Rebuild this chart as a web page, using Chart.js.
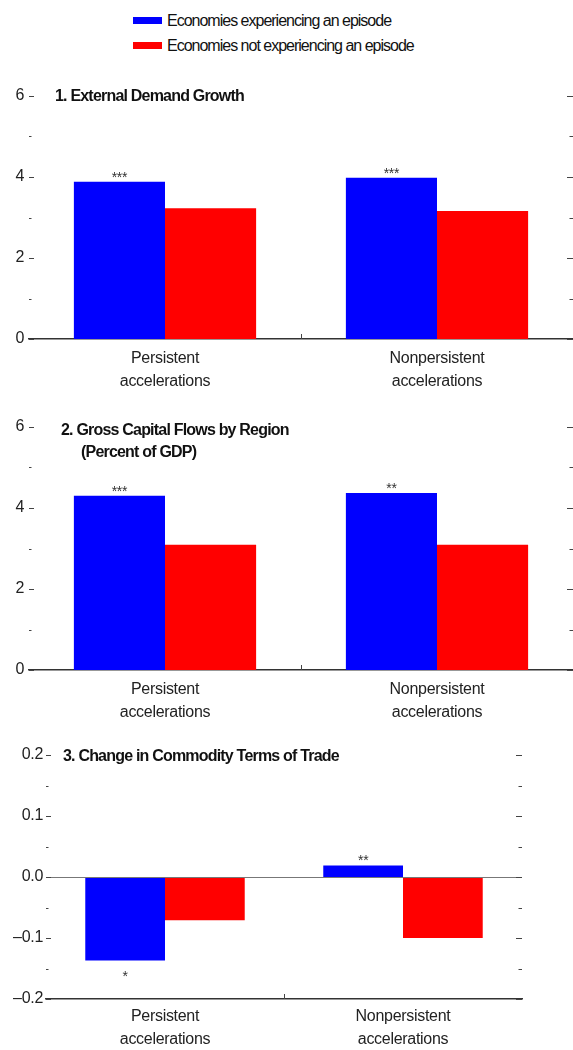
<!DOCTYPE html>
<html>
<head>
<meta charset="utf-8">
<script src="https://cdn.jsdelivr.net/npm/chart.js@4.4.1/dist/chart.umd.min.js"></script>
<style>
  body {
    margin: 0;
    background: #fff;
    width: 573px;
    height: 1050px;
    position: relative;
    overflow: hidden;
    font-family: "Liberation Sans", Arial, sans-serif;
  }
  .legend {
    position: absolute;
    left: 133px;
    top: 8px;
  }
  .legend-item {
    display: flex;
    align-items: center;
    height: 25px;
    font-size: 16px;
    letter-spacing: -1px;
    color: #111;
  }
  .swatch {
    width: 29px;
    height: 7px;
    margin-right: 5px;
  }
  .panel {
    position: absolute;
    left: 0;
    width: 573px;
  }
  .panel canvas {
    display: block;
  }
</style>
</head>
<body>
<div class="legend" id="legend"></div>
<div class="panel" style="top:80px;height:320px"><canvas id="chart1" width="573" height="320"></canvas></div>
<div class="panel" style="top:410px;height:320px"><canvas id="chart2" width="573" height="320"></canvas></div>
<div class="panel" style="top:740px;height:310px"><canvas id="chart3" width="573" height="310"></canvas></div>

<script>
// donnees
const categories = [['Persistent', 'accelerations'], ['Nonpersistent', 'accelerations']];
const seriesNames = ['Economies experiencing an episode', 'Economies not experiencing an episode'];
const seriesColors = ['#0000ff', '#ff0000'];

const demandTitle = ['1. External Demand Growth'];
const demandEpisode = [3.88, 3.98];
const demandNoEpisode = [3.23, 3.16];
const demandStars = ['***', '***'];

const flowsTitle = ['2. Gross Capital Flows by Region', '(Percent of GDP)'];
const flowsEpisode = [4.30, 4.37];
const flowsNoEpisode = [3.09, 3.09];
const flowsStars = ['***', '**'];

const totTitle = ['3. Change in Commodity Terms of Trade'];
const totEpisode = [-0.137, 0.019];
const totNoEpisode = [-0.071, -0.100];
const totStars = ['*', '**'];

const yLabels12 = ['0', '', '2', '', '4', '', '6'];
const yLabels3 = ['\u20130.2', '', '\u20130.1', '', '0.0', '', '0.1', '', '0.2'];

// legende
const legend = document.getElementById('legend');
seriesNames.forEach((name, i) => {
  const item = document.createElement('div');
  item.className = 'legend-item';
  const sw = document.createElement('span');
  sw.className = 'swatch';
  sw.style.background = seriesColors[i];
  item.appendChild(sw);
  item.appendChild(document.createTextNode(name));
  legend.appendChild(item);
});

// ticks, titre, etoiles
const panelDecor = {
  id: 'panelDecor',
  beforeDraw(chart) {
    chart.ctx.letterSpacing = '-0.3px';
  },
  afterDatasetsDraw(chart, args, opts) {
    const { ctx, chartArea: a, scales: { x, y } } = chart;
    ctx.save();

    if (opts.zeroLine) {
      const y0 = Math.round(y.getPixelForValue(0)) + 0.5;
      ctx.strokeStyle = '#777';
      ctx.lineWidth = 1.2;
      ctx.beginPath();
      ctx.moveTo(a.left, y0);
      ctx.lineTo(a.right, y0);
      ctx.stroke();
    }

    ctx.strokeStyle = '#444';
    ctx.lineWidth = 1;
    ctx.beginPath();
    y.ticks.forEach((t, i) => {
      const py = Math.round(y.getPixelForTick(i)) + 0.5;
      const len = t.label ? 5 : 2.5;
      ctx.moveTo(a.left, py);
      ctx.lineTo(a.left + len, py);
      ctx.moveTo(a.right - len - 1, py);
      ctx.lineTo(a.right, py);
    });
    const mid = Math.round((x.getPixelForValue(0) + x.getPixelForValue(1)) / 2) + 0.5;
    ctx.moveTo(mid, a.bottom);
    ctx.lineTo(mid, a.bottom - 5);
    ctx.stroke();

    // etoiles de significativite
    ctx.fillStyle = '#333';
    ctx.font = '14px "Liberation Sans", Arial, sans-serif';
    ctx.textAlign = 'center';
    ctx.textBaseline = 'alphabetic';
    const meta = chart.getDatasetMeta(0);
    const vals = chart.data.datasets[0].data;
    meta.data.forEach((bar, i) => {
      const s = opts.stars[i];
      if (!s) return;
      const ty = vals[i] >= 0 ? bar.y : bar.y + 20;
      ctx.fillText(s, bar.x, ty);
    });

    // titre
    ctx.fillStyle = '#111';
    ctx.font = 'bold 16px "Liberation Sans", Arial, sans-serif';
    ctx.letterSpacing = '-0.8px';
    ctx.textAlign = 'left';
    ctx.textBaseline = 'middle';
    opts.title.forEach((line, i) => {
      ctx.fillText(line, opts.titlePos[i][0], opts.titlePos[i][1]);
    });
    ctx.restore();
  }
};

function makePanel(id, cfg) {
  return new Chart(document.getElementById(id), {
    type: 'bar',
    data: {
      labels: categories,
      datasets: [
        { label: seriesNames[0], data: cfg.episode, backgroundColor: seriesColors[0] },
        { label: seriesNames[1], data: cfg.noEpisode, backgroundColor: seriesColors[1] }
      ]
    },
    options: {
      responsive: false,
      animation: false,
      categoryPercentage: 0.67,
      barPercentage: 1.0,
      layout: { padding: { top: cfg.padTop, right: cfg.padRight, left: 0, bottom: 0 } },
      plugins: {
        legend: { display: false },
        tooltip: { enabled: false },
        panelDecor: {
          title: cfg.title,
          titlePos: cfg.titlePos,
          stars: cfg.stars,
          zeroLine: cfg.zeroLine
        }
      },
      scales: {
        x: {
          grid: { display: false, drawTicks: false },
          border: { display: true, color: '#333', width: 1.5 },
          ticks: {
            color: '#222',
            padding: cfg.xPad,
            font: { family: '"Liberation Sans", Arial, sans-serif', size: 16, lineHeight: 1.45 },
            maxRotation: 0
          },
          afterFit: scale => { scale.height = cfg.xHeight; }
        },
        y: {
          min: cfg.min,
          max: cfg.max,
          grid: { display: false, drawTicks: false },
          border: { display: false },
          ticks: {
            stepSize: cfg.step,
            autoSkip: false,
            color: '#222',
            padding: cfg.yPad,
            font: { family: '"Liberation Sans", Arial, sans-serif', size: 16 },
            callback: (value, index) => cfg.yLabels[index]
          },
          afterFit: scale => { scale.width = cfg.yWidth; }
        }
      }
    },
    plugins: [panelDecor]
  });
}

makePanel('chart1', {
  episode: demandEpisode, noEpisode: demandNoEpisode, stars: demandStars,
  title: demandTitle, titlePos: [[55, 17]],
  min: 0, max: 6, step: 1, yLabels: yLabels12,
  padTop: 16, padRight: 0, xHeight: 61, yWidth: 29, yPad: 5, xPad: 8, zeroLine: false
});

makePanel('chart2', {
  episode: flowsEpisode, noEpisode: flowsNoEpisode, stars: flowsStars,
  title: flowsTitle, titlePos: [[61, 21], [81, 43]],
  min: 0, max: 6, step: 1, yLabels: yLabels12,
  padTop: 17, padRight: 0, xHeight: 60, yWidth: 29, yPad: 5, xPad: 8, zeroLine: false
});

makePanel('chart3', {
  episode: totEpisode, noEpisode: totNoEpisode, stars: totStars,
  title: totTitle, titlePos: [[63, 17]],
  min: -0.2, max: 0.2, step: 0.05, yLabels: yLabels3,
  padTop: 15, padRight: 51, xHeight: 51, yWidth: 46, yPad: 3, xPad: 6, zeroLine: true
});
</script>
</body>
</html>
